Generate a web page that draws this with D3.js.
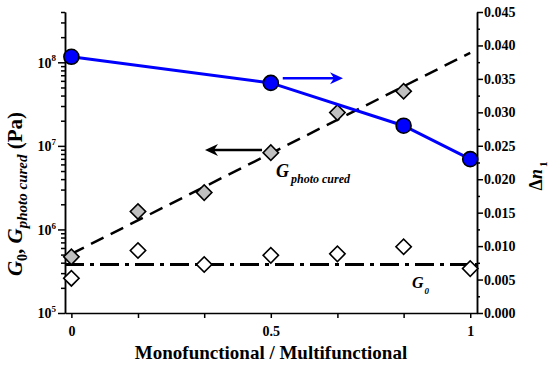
<!DOCTYPE html>
<html>
<head>
<meta charset="utf-8">
<script src="https://cdn.jsdelivr.net/npm/d3@7"></script>
<style>
  body { margin: 0; background: #fff; }
  svg text { font-family: "Liberation Serif", "Times New Roman", serif; font-weight: bold; fill: #000; }
</style>
</head>
<body>
<svg id="chart" width="550" height="369"></svg>
<script>
// ratio monofunctional / multifunctional
var ratio = [0, 0.167, 0.333, 0.5, 0.667, 0.833, 1];
// G photo cured (Pa), gray diamonds
var gPhoto = [4.7e5, 1.64e6, 2.76e6, 8.3e6, 2.5e7, 4.5e7];
// G0 (Pa), open diamonds
var g0 = [2.6e5, 5.6e5, 3.8e5, 4.9e5, 5.1e5, 6.2e5, 3.4e5];
// fitted lines
var fitRatio = [0, 1];
var fitG = [5.1e5, 1.3e8];
var g0Mean = 3.8e5;
// birefringence, blue circles (right axis)
var dnRatio = [0, 0.5, 0.833, 1];
var dn = [0.0383, 0.0344, 0.0280, 0.0230];

var xTicks = [0, 0.167, 0.333, 0.5, 0.667, 0.833, 1];
var xLabels = {"0": "0", "0.5": "0.5", "1": "1"};
var leftMajor = [1e5, 1e6, 1e7, 1e8];
var rightMajor = [0, 0.005, 0.010, 0.015, 0.020, 0.025, 0.030, 0.035, 0.040, 0.045];

var svg = d3.select("#chart");

var x = d3.scaleLinear().domain([-0.016, 1.017]).range([65, 477]);
var yL = d3.scaleLog().domain([1e5, 4e8]).range([313, 12]);
var yR = d3.scaleLinear().domain([0, 0.045]).range([313, 12]);

// minor ticks for log axis
var leftMinor = [];
leftMajor.forEach(function(m) {
  for (var k = 2; k <= 9; k++) {
    if (m * k <= 4e8) leftMinor.push(m * k);
  }
});
var rightMinor = rightMajor.slice(0, -1).map(function(v) { return v + 0.0025; });

function styleAxis(g) {
  g.selectAll("path, line").attr("stroke", "#000").attr("stroke-width", 1.5);
}

// bottom axis
svg.append("g")
  .attr("transform", "translate(0,313)")
  .call(d3.axisBottom(x).tickValues(xTicks).tickSize(5).tickSizeOuter(0)
    .tickFormat(function(d) { return xLabels[String(d)] || ""; }))
  .call(styleAxis)
  .call(function(g) {
    g.selectAll("text").attr("font-size", 14).attr("dy", "1.1em");
  });

// left axis
svg.append("g")
  .attr("transform", "translate(65,0)")
  .call(d3.axisLeft(yL).tickValues(leftMinor).tickSize(4).tickSizeOuter(0).tickFormat(""))
  .call(styleAxis);
svg.append("g")
  .attr("transform", "translate(65,0)")
  .call(d3.axisLeft(yL).tickValues(leftMajor).tickSize(7).tickSizeOuter(0).tickFormat(""))
  .call(styleAxis)
  .call(function(g) {
    g.selectAll(".tick").append("text")
      .attr("x", -9).attr("dy", "0.35em")
      .attr("text-anchor", "end")
      .attr("font-size", 14)
      .each(function(d) {
        var t = d3.select(this);
        t.append("tspan").text("10");
        t.append("tspan").attr("font-size", 9).attr("dy", "-0.7em")
          .text(Math.round(Math.log10(d)));
      });
  });

// right axis
svg.append("g")
  .attr("transform", "translate(477,0)")
  .call(d3.axisRight(yR).tickValues(rightMinor).tickSize(3).tickSizeOuter(0).tickFormat(""))
  .call(styleAxis);
svg.append("g")
  .attr("transform", "translate(477,0)")
  .call(d3.axisRight(yR).tickValues(rightMajor).tickSize(6).tickSizeOuter(0)
    .tickFormat(d3.format(".3f")))
  .call(styleAxis)
  .call(function(g) {
    g.selectAll("text").attr("font-size", 14).attr("x", 7);
  });

// fit lines
var lineL = d3.line().x(function(d) { return x(d[0]); }).y(function(d) { return yL(d[1]); });
svg.append("path")
  .attr("d", lineL(fitRatio.map(function(r, i) { return [r, fitG[i]]; })))
  .attr("fill", "none").attr("stroke", "#000").attr("stroke-width", 2.5)
  .attr("stroke-dasharray", "14,8");
svg.append("path")
  .attr("d", lineL([[-0.016, g0Mean], [1.017, g0Mean]]))
  .attr("fill", "none").attr("stroke", "#000").attr("stroke-width", 3)
  .attr("stroke-dasharray", "19,6,4,6");

// diamonds
var diamond = d3.symbol().type(d3.symbolSquare).size(118);
svg.selectAll(".g0").data(g0).enter().append("path")
  .attr("d", diamond)
  .attr("transform", function(d, i) { return "translate(" + x(ratio[i]) + "," + yL(d) + ") rotate(45)"; })
  .attr("fill", "#fff").attr("stroke", "#000").attr("stroke-width", 1.6);
svg.selectAll(".gp").data(gPhoto).enter().append("path")
  .attr("d", diamond)
  .attr("transform", function(d, i) { return "translate(" + x(ratio[i]) + "," + yL(d) + ") rotate(45)"; })
  .attr("fill", "#c0c0c0").attr("stroke", "#000").attr("stroke-width", 1.6);

// birefringence
var dnPts = dnRatio.map(function(r, i) { return [r, dn[i]]; });
svg.append("path")
  .attr("d", d3.line().x(function(d) { return x(d[0]); }).y(function(d) { return yR(d[1]); })(dnPts))
  .attr("fill", "none").attr("stroke", "#0000ff").attr("stroke-width", 3);
svg.selectAll(".dn").data(dnPts).enter().append("circle")
  .attr("cx", function(d) { return x(d[0]); })
  .attr("cy", function(d) { return yR(d[1]); })
  .attr("r", 7.5)
  .attr("fill", "#0000ff").attr("stroke", "#000").attr("stroke-width", 1.6);

// arrows
function arrow(x1, x2, y, color) {
  var dir = x2 > x1 ? 1 : -1;
  svg.append("line")
    .attr("x1", x1).attr("x2", x2 - dir * 8).attr("y1", y).attr("y2", y)
    .attr("stroke", color).attr("stroke-width", 2.5);
  svg.append("path")
    .attr("d", "M" + x2 + "," + y + " L" + (x2 - dir * 13) + "," + (y - 6) +
      " L" + (x2 - dir * 9) + "," + y + " L" + (x2 - dir * 13) + "," + (y + 6) + " Z")
    .attr("fill", color);
}
arrow(x(0.478), x(0.335), yL(8.9e6), "#000");
arrow(x(0.530), x(0.681), yR(0.0351), "#0000ff");

// inline labels
var lp = svg.append("text").attr("x", 276).attr("y", 177).attr("font-style", "italic").attr("font-size", 18);
lp.append("tspan").text("G");
lp.append("tspan").attr("font-size", 12).attr("dy", 6).attr("dx", 2).text("photo cured");

var l0 = svg.append("text").attr("x", 412).attr("y", 288).attr("font-style", "italic").attr("font-size", 16);
l0.append("tspan").text("G");
l0.append("tspan").attr("font-size", 9).attr("dy", 6).attr("dx", 1).text("0");

// axis titles
svg.append("text")
  .attr("x", 271).attr("y", 359)
  .attr("text-anchor", "middle").attr("font-size", 19)
  .text("Monofunctional / Multifunctional");

var yt = svg.append("text")
  .attr("transform", "translate(22,194) rotate(-90)")
  .attr("text-anchor", "middle").attr("font-size", 21);
yt.append("tspan").attr("font-style", "italic").text("G");
yt.append("tspan").attr("font-size", 14).attr("dy", 5).text("0");
yt.append("tspan").attr("dy", -5).text(", ");
yt.append("tspan").attr("font-style", "italic").text("G");
yt.append("tspan").attr("font-style", "italic").attr("font-size", 15).attr("dy", 5).text("photo cured");
yt.append("tspan").attr("dy", -5).text(" (Pa)");

var rt = svg.append("text")
  .attr("transform", "translate(542,176) rotate(-90)")
  .attr("text-anchor", "middle").attr("font-size", 18);
rt.append("tspan").text("Δ");
rt.append("tspan").attr("font-style", "italic").text("n");
rt.append("tspan").attr("font-size", 11).attr("dy", 5).attr("dx", 2).text("1");
</script>
</body>
</html>
